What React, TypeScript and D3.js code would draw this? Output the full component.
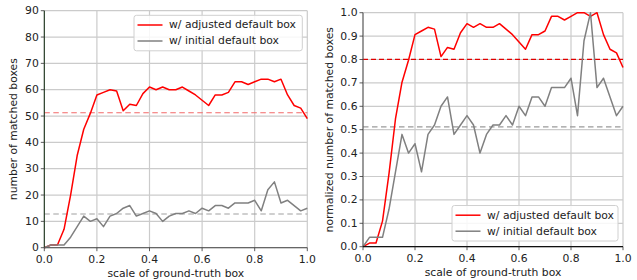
import * as d3 from "d3"
import React from "react"

const WIDTH = 637
const HEIGHT = 280

// scale of ground-truth box, step 0.025
const scales = d3.range(41).map((i) => i * 0.025)

const adjustedCounts = [
    0, 1, 1, 7, 20, 35, 45, 51, 58, 59, 60, 59.5, 52, 54.5, 54, 58.5, 61, 60, 61, 60,
    60, 61, 59.5, 58, 56, 54, 58, 58, 59, 63, 63, 62, 63, 64, 64, 63, 64, 58, 54, 53, 49,
]
const initialCounts = [
    0, 1, 1, 1, 4, 8, 12, 10, 11, 8, 12, 13, 15, 16, 12, 13, 14, 13, 10, 12,
    13, 13, 14, 13, 15, 14, 16, 16, 15, 17, 17, 17, 18, 14, 22, 25, 17, 18, 16, 14, 15,
]

const xTicks = [0, 0.2, 0.4, 0.6, 0.8, 1.0]
const leftYTicks = [0, 10, 20, 30, 40, 50, 60, 70, 80, 90]
const rightYTicks = [0, 0.1, 0.2, 0.3, 0.4, 0.5, 0.6, 0.7, 0.8, 0.9, 1.0]

const legendLabels = ["w/ adjusted default box", "w/ initial default box"]

const FONT = "DejaVu Sans, sans-serif"
const FONT_SIZE = 10.8
const GRID = "#cbcbcb"

function Panel(props) {
    const { x0, x1, y0, y1, domainMax, yTicks, yFormat, series, means, meanStyles, ylabel, ylabelX, legend, spineLeft, spineBottom } = props

    const xScale = d3.scaleLinear().domain([0, 1]).range([x0, x1])
    const yScale = d3.scaleLinear().domain([0, domainMax]).range([y1, y0])

    const line = d3.line()
        .x((d) => xScale(d[0]))
        .y((d) => yScale(d[1]))

    return (
        <g fontFamily={FONT} fontSize={FONT_SIZE} fill="#222">
            {/* grid */}
            {xTicks.map((t) => (
                <line key={"gx" + t} x1={xScale(t)} x2={xScale(t)} y1={y0} y2={y1} stroke={GRID} strokeWidth={1.2} />
            ))}
            {yTicks.map((t) => (
                <line key={"gy" + t} x1={x0} x2={x1} y1={yScale(t)} y2={yScale(t)} stroke={GRID} strokeWidth={1.2} />
            ))}

            {/* mean lines */}
            {means.map((m, i) => (
                <line key={"m" + i} x1={x0} x2={x1} y1={yScale(m)} y2={yScale(m)}
                    stroke={meanStyles[i].color} strokeWidth={1.1} strokeDasharray={meanStyles[i].dash} />
            ))}

            {/* series */}
            {series.map((s, i) => (
                <path key={"s" + i} d={line(scales.map((x, j) => [x, s.values[j]]))}
                    fill="none" stroke={s.color} strokeWidth={1.5} strokeLinejoin="round" />
            ))}

            {/* spines */}
            <line x1={x0} x2={x0} y1={y0} y2={y1} stroke={spineLeft} strokeWidth={1} />
            <line x1={x0} x2={x1} y1={y1} y2={y1} stroke={spineBottom} strokeWidth={1.2} />

            {/* x ticks */}
            {xTicks.map((t) => (
                <g key={"xt" + t}>
                    <line x1={xScale(t)} x2={xScale(t)} y1={y1} y2={y1 + 3.5} stroke="#333" strokeWidth={0.8} />
                    <text x={xScale(t)} y={y1 + 15.5} textAnchor="middle" fill="#222">{t.toFixed(1)}</text>
                </g>
            ))}
            {/* y ticks */}
            {yTicks.map((t) => (
                <g key={"yt" + t}>
                    <line x1={x0 - 3.5} x2={x0} y1={yScale(t)} y2={yScale(t)} stroke="#333" strokeWidth={0.8} />
                    <text x={x0 - 5.5} y={yScale(t)} textAnchor="end" dominantBaseline="central" fill="#222">{yFormat(t)}</text>
                </g>
            ))}

            <text x={(x0 + x1) / 2} y={y1 + 29.5} textAnchor="middle" fill="#222">scale of ground-truth box</text>
            <text transform={`translate(${ylabelX},${(y0 + y1) / 2}) rotate(-90)`} textAnchor="middle" dominantBaseline="central" fill="#222">{ylabel}</text>

            {/* legend */}
            <g transform={`translate(${legend.x},${legend.y})`}>
                <rect x={0} y={0} width={legend.w} height={35.5} rx={2.5} fill="white" fillOpacity={0.85} stroke="#d0d0d0" strokeWidth={1} />
                {series.map((s, i) => (
                    <g key={"lg" + i}>
                        <line x1={3.5} x2={28.5} y1={9.7 + i * 16} y2={9.7 + i * 16} stroke={s.color} strokeWidth={1.5} />
                        <text x={35} y={9.7 + i * 16} dominantBaseline="central" fill="#222">{legendLabels[i]}</text>
                    </g>
                ))}
            </g>
        </g>
    )
}

export default function App() {
    const redMax = d3.max(adjustedCounts)
    const grayMax = d3.max(initialCounts)
    const redNorm = adjustedCounts.map((v) => v / redMax)
    const grayNorm = initialCounts.map((v) => v / grayMax)

    const redMean = d3.mean(adjustedCounts)
    const grayMean = d3.mean(initialCounts)

    return (
        <svg width={WIDTH} height={HEIGHT} style={{ position: "absolute", left: 0, top: 0, background: "white" }}>
            <Panel
                x0={44.3} x1={307.3} y0={10.7} y1={247.7}
                domainMax={90}
                yTicks={leftYTicks}
                yFormat={(t) => String(t)}
                series={[
                    { values: adjustedCounts, color: "#ff0000" },
                    { values: initialCounts, color: "#808080" },
                ]}
                means={[redMean, grayMean]}
                meanStyles={[
                    { color: "#f26a6a", dash: "5.5,3.5" },
                    { color: "#a0a0a0", dash: "5.5,3.5" },
                ]}
                ylabel="number of matched boxes"
                ylabelX={13}
                legend={{ x: 134, y: 15.3, w: 168.3 }}
                spineLeft="#102a10"
                spineBottom="#666"
            />
            <Panel
                x0={363} x1={623} y0={12.7} y1={246.7}
                domainMax={1}
                yTicks={rightYTicks}
                yFormat={(t) => t.toFixed(1)}
                series={[
                    { values: redNorm, color: "#ff0000" },
                    { values: grayNorm, color: "#808080" },
                ]}
                means={[d3.mean(redNorm), d3.mean(grayNorm)]}
                meanStyles={[
                    { color: "#e00000", dash: "5,3" },
                    { color: "#9a9a9a", dash: "5.5,3.5" },
                ]}
                ylabel="normalized number of matched boxes"
                ylabelX={329}
                legend={{ x: 452, y: 205.5, w: 166 }}
                spineLeft="#555"
                spineBottom="#111"
            />
        </svg>
    )
}
